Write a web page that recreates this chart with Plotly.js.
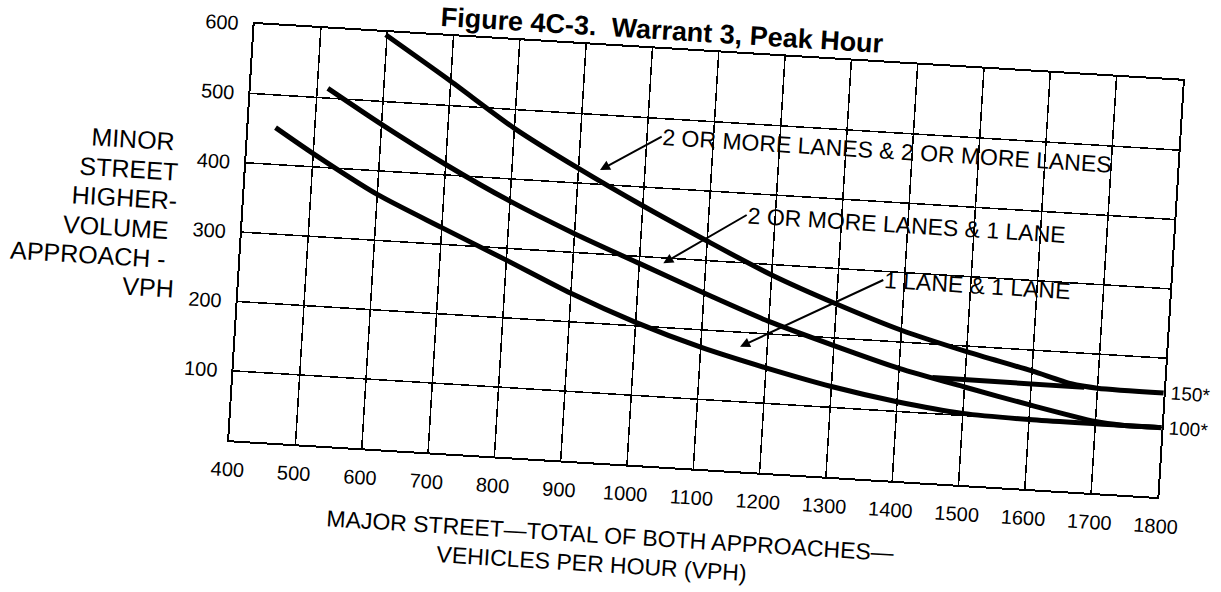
<!DOCTYPE html>
<html>
<head>
<meta charset="utf-8">
<script src="https://cdn.plot.ly/plotly-3.0.1.min.js"></script>
<style>
  html, body { margin: 0; padding: 0; background: #ffffff; overflow: hidden; width: 1221px; height: 592px; }
  #plot { width: 1221px; height: 592px; }
</style>
</head>
<body>
<div id="plot"></div>
<script>
// ---------------- data (at grid crossings) ----------------
const xTickVals = [400, 500, 600, 700, 800, 900, 1000, 1100, 1200, 1300, 1400, 1500, 1600, 1700, 1800];
const yTickVals = [100, 200, 300, 400, 500, 600];

// 2 OR MORE LANES & 2 OR MORE LANES
const lanes22X = [598, 700, 800, 900, 1000, 1100, 1200, 1300, 1400, 1500, 1600, 1660, 1700, 1800];
const lanes22Y = [596, 535, 473, 421, 373, 328, 285, 249, 217, 192, 170, 155, 151, 150];

// 2 OR MORE LANES & 1 LANE
const lanes21X = [516, 600, 700, 800, 900, 1000, 1100, 1200, 1300, 1400, 1500, 1600, 1700, 1740, 1800];
const lanes21Y = [514, 467, 415, 368, 327, 290, 253, 218, 189, 162, 141, 121, 103, 100, 100];

// 1 LANE & 1 LANE
const lanes11X = [441, 500, 600, 700, 800, 900, 1000, 1100, 1200, 1300, 1400, 1500, 1600, 1800];
const lanes11Y = [453, 419, 366, 324, 283, 241, 205, 175, 151, 130, 114, 103, 100, 100];

// short connecting segment at the 150 level
const branchX = [1451, 1680];
const branchY = [152, 151];

const seriesNames = ['2 OR MORE LANES & 2 OR MORE LANES', '2 OR MORE LANES & 1 LANE', '1 LANE & 1 LANE'];
const floorLabels = ['150*', '100*'];
const floorValues = [150, 100];

const chartTitle = 'Figure 4C-3.  Warrant 3, Peak Hour';
const yTitleLines = ['MINOR', 'STREET', 'HIGHER-', 'VOLUME', 'APPROACH -', 'VPH'];
const xTitleLines = ['MAJOR STREET\u2014TOTAL OF BOTH APPROACHES\u2014', 'VEHICLES PER HOUR (VPH)'];

// ---------------- layout geometry (scan is slightly rotated) ----------------
const W = 1221, H = 592;
const M = { l: 241, r: 50, t: 52, b: 123 };
const PW = W - M.l - M.r, PH = H - M.t - M.b;
const CX = M.l + PW / 2, CY = M.t + PH / 2;
const ANG = 3.5;
const th = ANG * Math.PI / 180, cs = Math.cos(th), sn = Math.sin(th);

const el = document.getElementById('plot');
el.style.transformOrigin = CX + 'px ' + CY + 'px';
el.style.transform = 'rotate(' + ANG + 'deg)';

// picture pixel position -> un-rotated pixel position
function unrot(px, py) {
  const dx = px - CX, dy = py - CY;
  return { x: CX + dx * cs + dy * sn, y: CY - dx * sn + dy * cs };
}
function img2paper(px, py) {
  const u = unrot(px, py);
  return { x: (u.x - M.l) / PW, y: 1 - (u.y - M.t) / PH };
}
function img2container(px, py) {
  const u = unrot(px, py);
  return { x: u.x / W, y: 1 - u.y / H };
}
function unrotVec(vx, vy) {
  return { x: vx * cs + vy * sn, y: -vx * sn + vy * cs };
}

const FONT = 'Liberation Sans, Arial, Helvetica, sans-serif';

// ---------------- traces ----------------
const lineStyle = { color: '#000', width: 5, shape: 'spline', smoothing: 0.7 };
const traces = [
  { x: lanes22X, y: lanes22Y, name: seriesNames[0], mode: 'lines', line: lineStyle, hoverinfo: 'name' },
  { x: lanes21X, y: lanes21Y, name: seriesNames[1], mode: 'lines', line: lineStyle, hoverinfo: 'name' },
  { x: lanes11X, y: lanes11Y, name: seriesNames[2], mode: 'lines', line: lineStyle, hoverinfo: 'name' },
  { x: branchX, y: branchY, name: 'connector', mode: 'lines', line: { color: '#000', width: 5 }, hoverinfo: 'skip' }
];

// ---------------- annotations ----------------
const annotations = [];

// labels with arrows: [head image px, tail image px]
const arrowGeom = [
  [[600, 170], [661.7, 136.7]],
  [[663.3, 263.3], [746.7, 215]],
  [[740, 346.7], [883.3, 280]]
];
seriesNames.forEach(function (txt, i) {
  const h = arrowGeom[i][0], t = arrowGeom[i][1];
  const hp = img2paper(h[0], h[1]);
  const v = unrotVec(t[0] - h[0], t[1] - h[1]);
  annotations.push({
    x: hp.x, y: hp.y, xref: 'paper', yref: 'paper',
    ax: v.x, ay: v.y, axref: 'pixel', ayref: 'pixel',
    text: txt, showarrow: true, arrowhead: 2, arrowsize: 1, arrowwidth: 2, arrowcolor: '#000',
    xanchor: 'left', yanchor: 'middle', borderpad: 0,
    font: { family: FONT, size: 23, color: '#000' }
  });
});

// floor labels at right edge
floorLabels.forEach(function (txt, i) {
  annotations.push({
    x: 1800, y: floorValues[i], xref: 'x', yref: 'y', text: txt, showarrow: false,
    xanchor: 'left', yanchor: 'middle', xshift: 6, borderpad: 0,
    font: { family: FONT, size: 19, color: '#000' }
  });
});

// y-axis title lines (horizontal text)
const yTitlePos = [[132.5, 138.7], [129, 168.7], [125, 197.5], [115.5, 226.7], [88.5, 253.8], [147.5, 286.7]];
yTitleLines.forEach(function (txt, i) {
  const p = img2paper(yTitlePos[i][0], yTitlePos[i][1]);
  annotations.push({
    x: p.x, y: p.y, xref: 'paper', yref: 'paper', text: txt, showarrow: false,
    xanchor: 'center', yanchor: 'middle',
    font: { family: FONT, size: 25, color: '#000' }
  });
});

// x-axis title lines
const xTitlePos = [[610, 536], [592, 564]];
xTitleLines.forEach(function (txt, i) {
  const p = img2paper(xTitlePos[i][0], xTitlePos[i][1]);
  annotations.push({
    x: p.x, y: p.y, xref: 'paper', yref: 'paper', text: txt, showarrow: false,
    xanchor: 'center', yanchor: 'middle',
    font: { family: FONT, size: 23, color: '#000' }
  });
});

const tp = img2container(662, 30);

const layout = {
  width: W, height: H,
  margin: M,
  paper_bgcolor: '#fff', plot_bgcolor: '#fff',
  showlegend: false,
  title: {
    text: '<b>' + chartTitle + '</b>',
    x: tp.x, y: tp.y, xref: 'container', yref: 'container', xanchor: 'center', yanchor: 'middle',
    font: { family: FONT, size: 27, color: '#000' }
  },
  xaxis: {
    range: [400, 1800], tickvals: xTickVals, ticktext: xTickVals.map(String),
    showgrid: true, gridcolor: '#000', gridwidth: 1.5,
    showline: true, linecolor: '#000', linewidth: 2, mirror: true,
    zeroline: false, ticks: '', ticklabelstandoff: 10,
    tickfont: { family: FONT, size: 20, color: '#000' }, fixedrange: true
  },
  yaxis: {
    range: [0, 600], tickvals: yTickVals, ticktext: yTickVals.map(String),
    showgrid: true, gridcolor: '#000', gridwidth: 1.5,
    showline: true, linecolor: '#000', linewidth: 2, mirror: true,
    zeroline: false, ticks: '', ticklabelstandoff: 10,
    tickfont: { family: FONT, size: 20, color: '#000' }, fixedrange: true
  },
  annotations: annotations
};

Plotly.newPlot(el, traces, layout, { displayModeBar: false, staticPlot: true });
</script>
</body>
</html>
